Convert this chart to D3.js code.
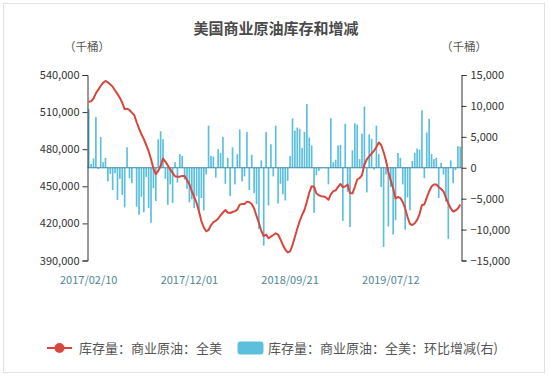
<!DOCTYPE html>
<html>
<head>
<meta charset="utf-8">
<script src="https://cdn.jsdelivr.net/npm/d3@7"></script>
<style>
  body { margin: 0; background: #fff; }
  text { font-family: "Noto Sans CJK SC", "Noto Sans", sans-serif; }
</style>
</head>
<body>
<svg width="550" height="380"></svg>
<script>
// weekly dates, 2017/02/10 .. 2020/01/31
var dates = [
  "2017/02/10","2017/02/17","2017/02/24","2017/03/03","2017/03/10","2017/03/17","2017/03/24","2017/03/31",
  "2017/04/07","2017/04/14","2017/04/21","2017/04/28","2017/05/05","2017/05/12","2017/05/19","2017/05/26",
  "2017/06/02","2017/06/09","2017/06/16","2017/06/23","2017/06/30","2017/07/07","2017/07/14","2017/07/21",
  "2017/07/28","2017/08/04","2017/08/11","2017/08/18","2017/08/25","2017/09/01","2017/09/08","2017/09/15",
  "2017/09/22","2017/09/29","2017/10/06","2017/10/13","2017/10/20","2017/10/27","2017/11/03","2017/11/10",
  "2017/11/17","2017/11/24","2017/12/01","2017/12/08","2017/12/15","2017/12/22","2017/12/29",
  "2018/01/05","2018/01/12","2018/01/19","2018/01/26","2018/02/02","2018/02/09","2018/02/16","2018/02/23",
  "2018/03/02","2018/03/09","2018/03/16","2018/03/23","2018/03/30","2018/04/06","2018/04/13","2018/04/20",
  "2018/04/27","2018/05/04","2018/05/11","2018/05/18","2018/05/25","2018/06/01","2018/06/08","2018/06/15",
  "2018/06/22","2018/06/29","2018/07/06","2018/07/13","2018/07/20","2018/07/27","2018/08/03","2018/08/10",
  "2018/08/17","2018/08/24","2018/08/31","2018/09/07","2018/09/14","2018/09/21","2018/09/28","2018/10/05",
  "2018/10/12","2018/10/19","2018/10/26","2018/11/02","2018/11/09","2018/11/16","2018/11/23","2018/11/30",
  "2018/12/07","2018/12/14","2018/12/21","2018/12/28",
  "2019/01/04","2019/01/11","2019/01/18","2019/01/25","2019/02/01","2019/02/08","2019/02/15","2019/02/22",
  "2019/03/01","2019/03/08","2019/03/15","2019/03/22","2019/03/29","2019/04/05","2019/04/12","2019/04/19",
  "2019/04/26","2019/05/03","2019/05/10","2019/05/17","2019/05/24","2019/05/31","2019/06/07","2019/06/14",
  "2019/06/21","2019/06/28","2019/07/05","2019/07/12","2019/07/19","2019/07/26","2019/08/02","2019/08/09",
  "2019/08/16","2019/08/23","2019/08/30","2019/09/06","2019/09/13","2019/09/20","2019/09/27","2019/10/04",
  "2019/10/11","2019/10/18","2019/10/25","2019/11/01","2019/11/08","2019/11/15","2019/11/22","2019/11/29",
  "2019/12/06","2019/12/13","2019/12/20","2019/12/27",
  "2020/01/03","2020/01/10","2020/01/17","2020/01/24","2020/01/31"
];

// 库存量 (left axis, thousand barrels)
var stock = [
  518300, 518700, 521000, 525200, 528200, 531100, 533700, 535200, 534100, 532400,
  530500, 527500, 524700, 521500, 517600, 512300, 512800, 511700, 509600, 507700,
  501800, 496600, 492100, 488100, 483400, 478500, 471800, 464300, 459800, 462500,
  466400, 472500, 469800, 466900, 463700, 460900, 458100, 457800, 457800, 458400,
  458400, 455100, 451700, 446000, 441500, 436500, 429600, 421900, 416700, 413600,
  414700, 418500, 421100, 422100, 423800, 426500, 428800, 430800, 428800, 428400,
  429200, 429900, 431200, 435200, 435700, 435700, 437600, 437100, 435700, 432100,
  426100, 420300, 413900, 409800, 411000, 408000, 409300, 410600, 412000, 411000,
  407000, 402500, 398900, 396600, 397400, 402500, 409000, 415700, 421800, 426800,
  430800, 437500, 444700, 450100, 449700, 444200, 442800, 442000, 441800, 440900,
  439100, 443500, 446000, 446700, 449500, 451900, 449400, 449800, 451500, 444600,
  444200, 449400, 455500, 456700, 459100, 467600, 471700, 474100, 476500, 478700,
  481800, 485400, 483400, 477700, 470900, 461600, 454700, 448200, 440100, 441400,
  440500, 437300, 432100, 425200, 419500, 418700, 420100, 422800, 427600, 434900,
  435300, 440900, 445800, 449800, 451500, 451500, 449400, 447800, 445800, 440900,
  436100, 432100, 429600, 430400, 432100, 435300
];

// 环比增减 (right axis, thousand barrels)
var change = [
  9500, 600, 1500, 8200, -200, 5000, 900, 1600, -2200, -1000,
  -3600, -900, -5200, -1800, -4400, -6400, 3300, -1700, -2500, 100,
  -6300, -7600, -4700, -7200, -1500, -6500, -8900, -3300, -5400, 4600,
  5900, 4600, -1800, -6000, -2700, -5700, 900, -2400, 2200, 1900,
  -1900, -3400, -5600, -5100, -6500, -4600, -7400, -4900, -6900, -1100,
  6800, 1900, 1800, -1600, 3000, 2400, 5000, -2600, 1600, -4600,
  3300, -2700, 2200, 6200, -2200, -1400, 5800, -3600, 2100, -4100,
  -5900, -9900, 1200, -12600, 5800, -6100, 3800, -1400, 6800, -5800,
  -2600, -4300, -5300, -2100, 1900, 8000, 6000, 6500, 6300, 3200,
  5800, 10300, 4900, 3600, -7300, -1200, -500, -100, 50, -100,
  -2700, 8000, 900, 1300, 3600, 3700, -8600, 7100, -3900, -9600,
  2800, 7200, 7000, 1400, 5500, 9900, -4000, 5400, 4700, -300,
  6800, 2200, -3100, -12800, -1100, -9500, -3100, -10800, -8500, 2400,
  1600, -2700, -10000, -4800, -6900, 1100, 2400, 3100, 2900, 9300,
  -1700, 5700, 7900, 2200, 1400, 1600, -4900, 800, -1100, -5500,
  -11500, 1200, -2500, -400, 3500, 3400
];

var leftTicks = [390000, 420000, 450000, 480000, 510000, 540000];
var rightTicks = [-15000, -10000, -5000, 0, 5000, 10000, 15000];
var xTickDates = ["2017/02/10", "2017/12/01", "2018/09/21", "2019/07/12"];

var svg = d3.select("svg"),
    width = +svg.attr("width"),
    height = +svg.attr("height");

var plotLeft = 87.5, plotRight = 461.5, plotTop = 75, plotBottom = 260.5;
var red = "#d8463d", blue = "#5cc0dd";

// card
svg.append("rect")
    .attr("x", 3.5).attr("y", 3.5)
    .attr("width", 541).attr("height", 369)
    .attr("fill", "#fff")
    .attr("stroke", "#e2e2e2");

var x = d3.scaleBand().domain(dates).range([plotLeft, plotRight])
    .paddingInner(0.3).paddingOuter(0.15);
var yL = d3.scaleLinear().domain([390000, 540000]).range([plotBottom, plotTop]);
var yR = d3.scaleLinear().domain([-15000, 15000]).range([plotBottom, plotTop]);
var cx = function(d) { return x(d) + x.bandwidth() / 2; };

// bars
svg.append("g")
    .selectAll("rect")
    .data(change)
    .enter().append("rect")
    .attr("x", function(d, i) { return x(dates[i]); })
    .attr("width", x.bandwidth())
    .attr("y", function(d) { return Math.min(yR(d), yR(0)); })
    .attr("height", function(d) { return Math.abs(yR(d) - yR(0)); })
    .attr("fill", blue);

// zero line
svg.append("line")
    .attr("x1", plotLeft).attr("x2", plotRight)
    .attr("y1", yR(0)).attr("y2", yR(0))
    .attr("stroke", "#3f87a8")
    .attr("stroke-width", 1);

// stock line
var line = d3.line()
    .x(function(d, i) { return cx(dates[i]); })
    .y(function(d) { return yL(d); });

svg.append("path")
    .datum(stock)
    .attr("fill", "none")
    .attr("stroke", red)
    .attr("stroke-width", 2)
    .attr("stroke-linejoin", "round")
    .attr("d", line);

// axes
var fmt = d3.format(",");
var gl = svg.append("g")
    .attr("transform", "translate(" + plotLeft + ",0)")
    .call(d3.axisLeft(yL).tickValues(leftTicks).tickFormat(fmt)
        .tickSizeInner(5).tickSizeOuter(5).tickPadding(3));
var gr = svg.append("g")
    .attr("transform", "translate(" + plotRight + ",0)")
    .call(d3.axisRight(yR).tickValues(rightTicks).tickFormat(fmt)
        .tickSizeInner(5).tickSizeOuter(5).tickPadding(4));
[gl, gr].forEach(function(g) {
    g.select(".domain").attr("stroke", "#333");
    g.selectAll(".tick line").attr("stroke", "#333");
    g.selectAll("text").attr("fill", "#333").attr("font-size", 11)
        .style("font-family", "'Noto Sans CJK SC', sans-serif");
});

var gx = svg.append("g")
    .attr("transform", "translate(0," + plotBottom + ")")
    .call(d3.axisBottom(x).tickValues(xTickDates).tickSize(0).tickPadding(16));
gx.select(".domain").remove();
gx.selectAll("text").attr("fill", "#4f8797").attr("font-size", 11)
    .style("font-family", "'Noto Sans CJK SC', sans-serif");

// title and units
svg.append("text")
    .attr("x", 276).attr("y", 34)
    .attr("text-anchor", "middle")
    .attr("font-size", 15).attr("font-weight", "bold")
    .attr("fill", "#4a4a4a")
    .text("美国商业原油库存和增减");

svg.append("text")
    .attr("x", 87).attr("y", 51)
    .attr("text-anchor", "middle")
    .attr("font-size", 11.5).attr("fill", "#555")
    .text("（千桶）");
svg.append("text")
    .attr("x", 464).attr("y", 51)
    .attr("text-anchor", "middle")
    .attr("font-size", 11.5).attr("fill", "#555")
    .text("（千桶）");

// legend
var ly = 348;
var lg = svg.append("g");
lg.append("line")
    .attr("x1", 47).attr("x2", 72).attr("y1", ly).attr("y2", ly)
    .attr("stroke", red).attr("stroke-width", 2);
lg.append("circle")
    .attr("cx", 59.5).attr("cy", ly).attr("r", 5)
    .attr("fill", red);
lg.append("text")
    .attr("x", 79).attr("y", ly).attr("dy", "0.35em")
    .attr("font-size", 13).attr("fill", "#555")
    .text("库存量：商业原油：全美");
lg.append("rect")
    .attr("x", 237.5).attr("y", ly - 6.5)
    .attr("width", 26).attr("height", 13).attr("rx", 3)
    .attr("fill", blue);
lg.append("text")
    .attr("x", 268).attr("y", ly).attr("dy", "0.35em")
    .attr("font-size", 13).attr("fill", "#555")
    .text("库存量：商业原油：全美：环比增减(右)");
</script>
</body>
</html>
